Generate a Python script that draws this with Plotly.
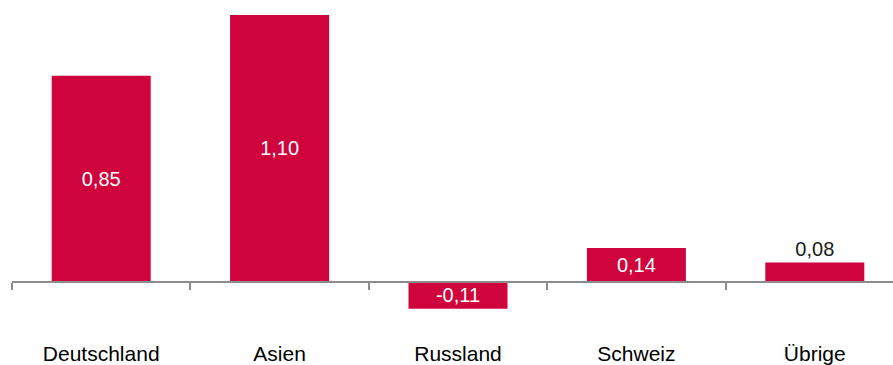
import plotly.graph_objects as go

categories = ["Deutschland", "Asien", "Russland", "Schweiz", "Übrige"]
values = [0.85, 1.10, -0.11, 0.14, 0.08]
text_positions = ["inside", "inside", "inside", "inside", "outside"]
text_colors = ["white", "white", "white", "white", "#1a1a1a"]

BAR_COLOR = "rgb(208,4,60)"
AXIS_COLOR = "#8c8c8c"
FONT = "Liberation Sans, Arial, sans-serif"

W, H = 893, 365
ml, mr, mt, mb = 12, 0, 0, 45
px_per_unit = 242.7
plot_h = H - mt - mb
plot_w = W - ml - mr
ymax = max(values) + 15 / px_per_unit
ymin = ymax - plot_h / px_per_unit
cat_px = 178.4
xmax = -0.5 + plot_w / cat_px

fig = go.Figure(
    go.Bar(
        x=categories,
        y=values,
        marker=dict(color=BAR_COLOR, line=dict(width=0)),
        width=0.555,
        texttemplate="%{y:.2f}",
        textposition=text_positions,
        insidetextanchor="middle",
        textfont=dict(family=FONT, size=20, color=text_colors),
        cliponaxis=False,
        hoverinfo="skip",
    )
)

fig.update_layout(
    width=W,
    height=H,
    margin=dict(l=ml, r=mr, t=mt, b=mb, pad=0),
    paper_bgcolor="white",
    plot_bgcolor="white",
    separators=",.",
    showlegend=False,
    uniformtext=dict(minsize=20, mode="show"),
    font=dict(family=FONT, size=20, color="#000000"),
    xaxis=dict(
        range=[-0.5, xmax],
        anchor="free",
        position=(0 - ymin) / (ymax - ymin),
        showline=True,
        linecolor=AXIS_COLOR,
        linewidth=2,
        ticks="outside",
        tickson="boundaries",
        ticklen=7,
        tickwidth=2,
        tickcolor=AXIS_COLOR,
        showgrid=False,
        zeroline=False,
        ticklabelstandoff=53,
        tickfont=dict(family=FONT, size=21, color="#000000"),
        automargin=False,
        fixedrange=True,
    ),
    yaxis=dict(
        range=[ymin, ymax],
        visible=False,
        showgrid=False,
        zeroline=False,
        automargin=False,
        fixedrange=True,
    ),
)

fig.write_html("out.html")
